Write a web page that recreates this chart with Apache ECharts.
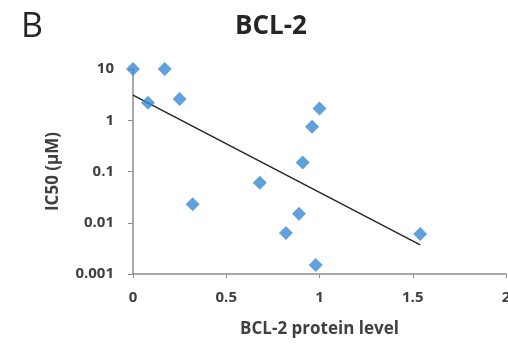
<!DOCTYPE html>
<html>
<head>
<meta charset="utf-8">
<script src="https://cdn.jsdelivr.net/npm/echarts@6/dist/echarts.min.js"></script>
<style>
  html, body { margin: 0; padding: 0; background: #fff; }
  #chart { width: 508px; height: 349px; }
</style>
</head>
<body>
<div id="chart"></div>
<script>
// BCL-2 protein level vs IC50 (uM)
var proteinLevel = [0, 0.17, 0.08, 0.25, 1.0, 0.96, 0.91, 0.68, 0.32, 0.89, 0.82, 0.98, 1.54];
var ic50 = [10, 10, 2.2, 2.6, 1.7, 0.75, 0.15, 0.06, 0.023, 0.015, 0.0063, 0.0015, 0.006];
// trend line end points
var trendX = [0, 1.54];
var trendY = [3.1, 0.0037];

var xTicks = [0, 0.5, 1, 1.5, 2];

var points = proteinLevel.map(function (x, i) { return [x, ic50[i]]; });
var trend = trendX.map(function (x, i) { return [x, trendY[i]]; });

var labelFont = '"Open Sans", "DejaVu Sans", sans-serif';

var myChart = echarts.init(document.getElementById('chart'));
var option = {
  backgroundColor: '#fff',
  animation: false,
  title: [
    {
      text: 'BCL-2',
      left: 266,
      top: 9,
      textAlign: 'center',
      textStyle: { fontFamily: labelFont, fontWeight: 'bold', fontSize: 26, color: '#262626' }
    },
    {
      text: 'B',
      left: 16,
      top: 5,
      textStyle: { fontFamily: labelFont, fontWeight: 'normal', fontSize: 34, color: '#262626' }
    }
  ],
  grid: { left: 133, right: 2, top: 69, bottom: 75, containLabel: false, outerBoundsMode: 'none' },
  xAxis: {
    type: 'value',
    min: 0,
    max: 2,
    interval: 0.5,
    name: 'BCL-2 protein level',
    nameLocation: 'middle',
    nameGap: 47,
    nameTextStyle: { fontFamily: labelFont, fontWeight: 'bold', fontSize: 17, color: '#404040' },
    axisLine: { show: true, lineStyle: { color: '#8c8c8c', width: 1.5 } },
    axisTick: { show: true, length: 4, lineStyle: { color: '#8c8c8c' } },
    axisLabel: {
      margin: 16,
      hideOverlap: false,
      fontFamily: labelFont, fontWeight: 'bold', fontSize: 15, color: '#404040',
      formatter: function (v) { return xTicks.indexOf(v) >= 0 ? String(v) : ''; }
    },
    splitLine: { show: false }
  },
  yAxis: {
    type: 'log',
    logBase: 10,
    min: 0.001,
    max: 10,
    name: 'IC50 (μM)',
    nameLocation: 'middle',
    nameGap: 71,
    nameRotate: 90,
    nameTextStyle: { fontFamily: labelFont, fontWeight: 'bold', fontSize: 17, color: '#404040' },
    axisLine: { show: true, lineStyle: { color: '#8c8c8c', width: 1.5 } },
    axisTick: { show: true, length: 5, lineStyle: { color: '#8c8c8c' } },
    axisLabel: {
      margin: 19,
      fontFamily: labelFont, fontWeight: 'bold', fontSize: 15, color: '#404040',
      formatter: function (v) { return String(+v.toPrecision(1)); }
    },
    splitLine: { show: false }
  },
  series: [
    {
      type: 'line',
      data: trend,
      symbol: 'none',
      lineStyle: { color: '#262626', width: 1.5 },
      z: 2
    },
    {
      type: 'scatter',
      data: points,
      symbol: 'diamond',
      symbolSize: [14, 14],
      itemStyle: { color: '#3a8ad2' },
      z: 3
    }
  ]
};
myChart.setOption(option);
</script>
</body>
</html>
